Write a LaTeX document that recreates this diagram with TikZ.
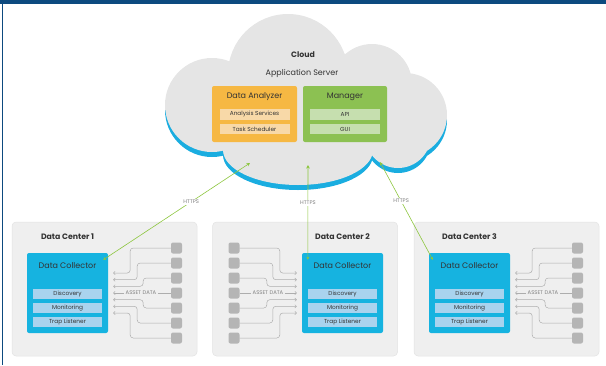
\documentclass[tikz,border=0pt]{standalone}
\usepackage{fontspec}
\setmainfont{Poppins}
\usetikzlibrary{arrows.meta}

\definecolor{barblue}{HTML}{0D4A7F}
\definecolor{cloudgray}{HTML}{E5E5E5}
\definecolor{cloudcyan}{HTML}{1AADE0}
\definecolor{anaorange}{HTML}{F6B843}
\definecolor{anasub}{HTML}{F8D9A8}
\definecolor{mgrgreen}{HTML}{8CC152}
\definecolor{mgrsub}{HTML}{C6DFAF}
\definecolor{colcyan}{HTML}{16B3E0}
\definecolor{colsub}{HTML}{A9D3EE}
\definecolor{panelgray}{HTML}{EFEFEF}
\definecolor{panelline}{HTML}{E3E3E3}
\definecolor{devgray}{HTML}{B5B5B5}
\definecolor{assetgray}{HTML}{ADADAD}
\definecolor{linkgreen}{HTML}{8DC63F}
\definecolor{txtdark}{HTML}{333333}

% the cloud is a union of puffs
\newcommand{\cloudblob}{%
  (288,74) circle[radius=60pt]
  (212,105) circle[radius=47pt]
  (372,84) circle[radius=40pt]
  (405,115) circle[radius=42pt]
  (398,135) circle[radius=33pt]
  (298,150) circle[x radius=75pt, y radius=35pt]
  (305,105) circle[x radius=110pt, y radius=55pt]}

\begin{document}
\begin{tikzpicture}[x=1pt,y=-1pt,
    panel/.style={fill=panelgray,draw=panelline,line width=0.5pt,rounded corners=4pt,
                  minimum width=185pt,minimum height=134pt},
    collector/.style={fill=colcyan,rounded corners=2pt,minimum width=81pt,minimum height=80pt},
    analyzer/.style={fill=anaorange,rounded corners=2pt,minimum width=85pt,minimum height=56pt},
    manager/.style={fill=mgrgreen,rounded corners=2pt,minimum width=84pt,minimum height=56pt},
    subbox/.style={inner sep=0pt,minimum height=10.5pt,text=txtdark,font=\fontsize{5.8}{6}\selectfont},
    subo/.style={subbox,fill=anasub,minimum width=70pt},
    subg/.style={subbox,fill=mgrsub,minimum width=70pt},
    subc/.style={subbox,fill=colsub,minimum width=69pt,minimum height=10pt},
    boxtitle/.style={text=txtdark,font=\fontsize{8}{9}\selectfont},
    dctitle/.style={text=txtdark,font=\fontsize{7.8}{9}\selectfont\bfseries},
    device/.style={fill=devgray,rounded corners=2pt,minimum size=11pt,inner sep=0pt},
    asset/.style={draw=assetgray,line width=0.5pt,rounded corners=3pt,shorten >=5pt,
                  -{Straight Barb[length=1.6pt,width=3.2pt]}},
    assetline/.style={draw=assetgray,line width=0.5pt},
    assetlbl/.style={text=gray,inner sep=1.5pt,font=\fontsize{5.3}{6}\selectfont},
    link/.style={draw=linkgreen,line width=0.6pt,
                 {Stealth[length=3pt,width=3pt]}-{Stealth[length=3.5pt,width=3.5pt]}},
    https/.style={fill=white,text=gray,inner sep=1pt,font=\fontsize{5.3}{6}\selectfont}
  ]
  \useasboundingbox (0,0) rectangle (606,365);
  \fill[barblue] (0,0) rectangle (606,4);
  \fill[barblue] (2,0) rectangle (3.2,365);

  % cloud with its cyan rim
  \fill[cloudcyan,yshift=-5pt] \cloudblob;
  \fill[cloudgray] \cloudblob;

  \node[dctitle] (cloud) at (303,55) {Cloud};
  \node[boxtitle] (appsrv) at (302,73) {Application Server};

  \node[analyzer] (ana) at (254.5,114) {};
  \node[boxtitle] (anatitle) at (254.5,97) {Data Analyzer};
  \node[subo] (anasrv) at (254.5,114.5) {Analysis Services};
  \node[subo] (anatask) at (254.5,129) {Task Scheduler};

  \node[manager] (mgr) at (345,114) {};
  \node[boxtitle] (mgrtitle) at (345,97) {Manager};
  \node[subg] (mgrapi) at (345,114.5) {API};
  \node[subg] (mgrgui) at (345,129) {GUI};

  % data centers
  \node[panel] (dc1) at (104.5,289) {};
  \node[panel] (dc2) at (305,289) {};
  \node[panel] (dc3) at (506.5,289) {};

  \node[dctitle] (dc1title) at (67.5,237) {Data Center 1};
  \node[dctitle] (dc2title) at (342.5,237) {Data Center 2};
  \node[dctitle] (dc3title) at (469.5,237) {Data Center 3};

  \node[collector] (c1) at (67.5,293) {};
  \node[collector] (c2) at (342.5,293) {};
  \node[collector] (c3) at (469.5,293) {};

  \node[boxtitle] (c1title) at (67.5,266) {Data Collector};
  \node[subc] (c1disc) at (67.5,294) {Discovery};
  \node[subc] (c1mon) at (67.5,308) {Monitoring};
  \node[subc] (c1trap) at (67.5,322) {Trap Listener};

  \node[boxtitle] (c2title) at (342.5,266) {Data Collector};
  \node[subc] (c2disc) at (342.5,294) {Discovery};
  \node[subc] (c2mon) at (342.5,308) {Monitoring};
  \node[subc] (c2trap) at (342.5,322) {Trap Listener};

  \node[boxtitle] (c3title) at (469.5,266) {Data Collector};
  \node[subc] (c3disc) at (469.5,294) {Discovery};
  \node[subc] (c3mon) at (469.5,308) {Monitoring};
  \node[subc] (c3trap) at (469.5,322) {Trap Listener};

  % devices
  \node[device] (d1a) at (176.5,248) {};
  \node[device] (d1b) at (176.5,263) {};
  \node[device] (d1c) at (176.5,278) {};
  \node[device] (d1d) at (176.5,293) {};
  \node[device] (d1e) at (176.5,308) {};
  \node[device] (d1f) at (176.5,323) {};
  \node[device] (d1g) at (176.5,338) {};

  \node[device] (d2a) at (234,248) {};
  \node[device] (d2b) at (234,263) {};
  \node[device] (d2c) at (234,278) {};
  \node[device] (d2d) at (234,293) {};
  \node[device] (d2e) at (234,308) {};
  \node[device] (d2f) at (234,323) {};
  \node[device] (d2g) at (234,338) {};

  \node[device] (d3a) at (577.5,248) {};
  \node[device] (d3b) at (577.5,263) {};
  \node[device] (d3c) at (577.5,278) {};
  \node[device] (d3d) at (577.5,293) {};
  \node[device] (d3e) at (577.5,308) {};
  \node[device] (d3f) at (577.5,323) {};
  \node[device] (d3g) at (577.5,338) {};

  \node[assetlbl] (ad1) at (141,293) {ASSET DATA};
  \node[assetlbl] (ad2) at (268,293) {ASSET DATA};
  \node[assetlbl] (ad3) at (543,293) {ASSET DATA};

  % asset data lines
  \draw[asset] (d1a.west) -| ([xshift=22pt,yshift=20pt]c1.east) -- ([yshift=20pt]c1.east);
  \draw[asset] (d1b.west) -| ([xshift=29pt,yshift=13.3pt]c1.east) -- ([yshift=13.3pt]c1.east);
  \draw[asset] (d1c.west) -| ([xshift=35pt,yshift=6.7pt]c1.east) -- ([yshift=6.7pt]c1.east);
  \draw[assetline] (d1d.west) -- (ad1.east);
  \draw[asset] (ad1.west) -- (c1.east);
  \draw[asset] (d1e.west) -| ([xshift=35pt,yshift=-6.7pt]c1.east) -- ([yshift=-6.7pt]c1.east);
  \draw[asset] (d1f.west) -| ([xshift=29pt,yshift=-13.3pt]c1.east) -- ([yshift=-13.3pt]c1.east);
  \draw[asset] (d1g.west) -| ([xshift=22pt,yshift=-20pt]c1.east) -- ([yshift=-20pt]c1.east);

  \draw[asset] (d2a.east) -| ([xshift=-22pt,yshift=20pt]c2.west) -- ([yshift=20pt]c2.west);
  \draw[asset] (d2b.east) -| ([xshift=-29pt,yshift=13.3pt]c2.west) -- ([yshift=13.3pt]c2.west);
  \draw[asset] (d2c.east) -| ([xshift=-35pt,yshift=6.7pt]c2.west) -- ([yshift=6.7pt]c2.west);
  \draw[assetline] (d2d.east) -- (ad2.west);
  \draw[asset] (ad2.east) -- (c2.west);
  \draw[asset] (d2e.east) -| ([xshift=-35pt,yshift=-6.7pt]c2.west) -- ([yshift=-6.7pt]c2.west);
  \draw[asset] (d2f.east) -| ([xshift=-29pt,yshift=-13.3pt]c2.west) -- ([yshift=-13.3pt]c2.west);
  \draw[asset] (d2g.east) -| ([xshift=-22pt,yshift=-20pt]c2.west) -- ([yshift=-20pt]c2.west);

  \draw[asset] (d3a.west) -| ([xshift=22pt,yshift=20pt]c3.east) -- ([yshift=20pt]c3.east);
  \draw[asset] (d3b.west) -| ([xshift=29pt,yshift=13.3pt]c3.east) -- ([yshift=13.3pt]c3.east);
  \draw[asset] (d3c.west) -| ([xshift=35pt,yshift=6.7pt]c3.east) -- ([yshift=6.7pt]c3.east);
  \draw[assetline] (d3d.west) -- (ad3.east);
  \draw[asset] (ad3.west) -- (c3.east);
  \draw[asset] (d3e.west) -| ([xshift=35pt,yshift=-6.7pt]c3.east) -- ([yshift=-6.7pt]c3.east);
  \draw[asset] (d3f.west) -| ([xshift=29pt,yshift=-13.3pt]c3.east) -- ([yshift=-13.3pt]c3.east);
  \draw[asset] (d3g.west) -| ([xshift=22pt,yshift=-20pt]c3.east) -- ([yshift=-20pt]c3.east);

  % https links into the cloud
  \coordinate (in1) at (250,163);
  \coordinate (in2) at (308,165);
  \coordinate (in3) at (380,162);
  \draw[link] ([xshift=-5pt,yshift=-7pt]c1.north east) -- node[https,pos=0.6] {HTTPS} (in1);
  \draw[link] ([xshift=6pt,yshift=-7pt]c2.north west) -- node[https,pos=0.6] {HTTPS} (in2);
  \draw[link] ([xshift=4pt,yshift=-7pt]c3.north west) -- node[https,pos=0.6] {HTTPS} (in3);
\end{tikzpicture}
\end{document}
